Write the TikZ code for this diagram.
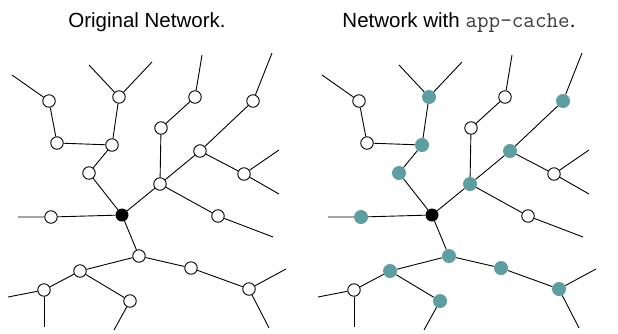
\documentclass[tikz,border=0pt]{standalone}
\usepackage{fontspec}
\setmainfont{Liberation Sans}
\definecolor{cachefill}{RGB}{95,158,160}
\definecolor{monogray}{RGB}{60,60,60}
\tikzset{
  host/.style={circle, draw=black, fill=white, line width=0.9pt, inner sep=0pt, minimum size=12.5pt},
  origin/.style={circle, fill=black, inner sep=0pt, minimum size=13pt},
  cached/.style={circle, fill=cachefill, inner sep=0pt, minimum size=14pt},
  link/.style={line width=0.9pt},
  title/.style={font=\fontsize{20.5}{24}\selectfont, anchor=base}
}
% One tree; nodes styled "cand" are the ones that may hold a cache
\newcommand\drawtree{%
  \node[origin] (hub) at (122,215) {};
  \node[host] (n1) at (49,101) {};
  \node[host] (n2) at (57,143) {};
  \node[cand] (n3) at (112,145) {};
  \node[cand] (n4) at (119,97) {};
  \node[cand] (n5) at (89,173) {};
  \node[host] (n6) at (161,128) {};
  \node[host] (n7) at (195,97) {};
  \node[cand] (n8) at (200,151) {};
  \node[cand] (n9) at (253,101) {};
  \node[host] (n10) at (244,174) {};
  \node[cand] (n11) at (160,184) {};
  \node[cand] (n12) at (51,217) {};
  \node[host] (n13) at (218,216) {};
  \node[cand] (n14) at (139,256) {};
  \node[cand] (n15) at (80,271) {};
  \node[host] (n16) at (44,290) {};
  \node[cand] (n17) at (130,301) {};
  \node[cand] (n18) at (191,268) {};
  \node[cand] (n19) at (249,289) {};
  \coordinate (e1) at (12,75);
  \coordinate (e4a) at (89,65);
  \coordinate (e4b) at (152,62);
  \coordinate (e7) at (202,55);
  \coordinate (e9) at (272,53);
  \coordinate (e10a) at (279,150);
  \coordinate (e10b) at (279,194);
  \coordinate (e12) at (18,217);
  \coordinate (e13) at (273,237);
  \coordinate (e16a) at (8,297);
  \coordinate (e16b) at (44,327);
  \coordinate (e17) at (114,330);
  \coordinate (e19a) at (286,269);
  \coordinate (e19b) at (269,328);
  \draw[link] (e1) -- (n1) -- (n2) -- (n3) -- (n4);
  \draw[link] (e4a) -- (n4) -- (e4b);
  \draw[link] (n3) -- (n5) -- (hub);
  \draw[link] (e12) -- (n12) -- (hub);
  \draw[link] (hub) -- (n11) -- (n6) -- (n7) -- (e7);
  \draw[link] (n11) -- (n8) -- (n9) -- (e9);
  \draw[link] (n8) -- (n10) -- (e10a);
  \draw[link] (n10) -- (e10b);
  \draw[link] (n11) -- (n13) -- (e13);
  \draw[link] (hub) -- (n14) -- (n15) -- (n16) -- (e16a);
  \draw[link] (n16) -- (e16b);
  \draw[link] (n15) -- (n17) -- (e17);
  \draw[link] (n14) -- (n18) -- (n19) -- (e19a);
  \draw[link] (n19) -- (e19b);
}
\begin{document}
\begin{tikzpicture}[x=1pt, y=-1pt]
  \useasboundingbox (0,0) rectangle (618,333);
  \node[title] (t1) at (147,27) {Original Network.};
  \node[title] (t2) at (459,27) {Network with {\color{monogray}\ttfamily\fontsize{22.5}{24}\selectfont app-cache}.};
  \begin{scope}[cand/.style={host}]
    \drawtree
  \end{scope}
  \begin{scope}[shift={(310,0)}, name prefix=r-, cand/.style={cached}]
    \drawtree
  \end{scope}
\end{tikzpicture}
\end{document}
